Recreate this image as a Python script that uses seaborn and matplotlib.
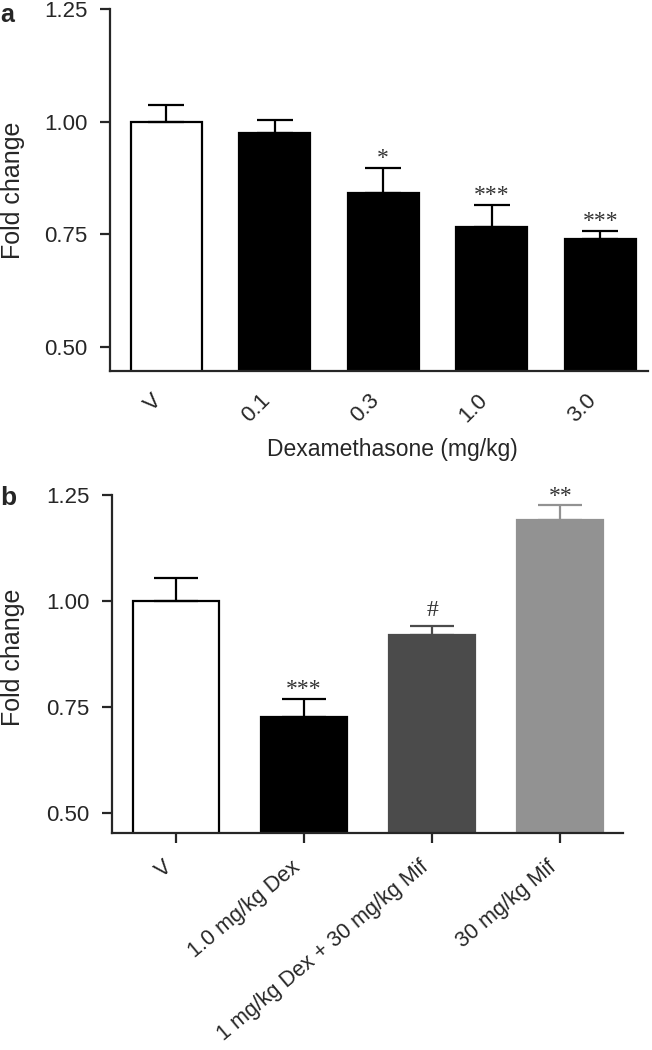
import numpy as np
import matplotlib
matplotlib.use('Agg')
import matplotlib.pyplot as plt
import matplotlib.transforms as mtransforms
import seaborn as sns

# ===================== data =====================
a_labels = ['V', '0.1', '0.3', '1.0', '3.0']
a_means = [1.00, 0.975, 0.841, 0.767, 0.739]
a_sem = [0.037, 0.029, 0.057, 0.049, 0.019]
a_marks = ['', '', '*', '***', '***']

b_labels = ['V', '1.0 mg/kg Dex', '1 mg/kg Dex + 30 mg/kg Mif', '30 mg/kg Mif']
b_means = [1.00, 0.726, 0.919, 1.191]
b_sem = [0.054, 0.043, 0.022, 0.035]
b_marks = ['', '***', '#', '**']

yticks = [0.50, 0.75, 1.00, 1.25]

# ===================== style =====================
sns.set_style('ticks')
plt.rcParams['font.family'] = ['Liberation Sans', 'DejaVu Sans']

a_face = ['white', 'black', 'black', 'black', 'black']
a_edge = ['black'] * 5
b_face = ['white', 'black', '#4b4b4b', '#929292']
b_edge = ['black', 'black', '#4b4b4b', '#929292']

fig = plt.figure(figsize=(6.52, 10.5), dpi=100)
ax_a = fig.add_axes([0.1687, 0.647, 0.825, 0.3442])
ax_b = fig.add_axes([0.1718, 0.2064, 0.7837, 0.3222])


def draw_panel(ax, labels, means, sem, marks, face, edge, width, cap, rot):
    sns.barplot(x=labels, y=means, hue=labels, palette=face, legend=False,
                width=width, linewidth=1.6, saturation=1, ax=ax)
    for patch, ec in zip(ax.patches, edge):
        patch.set_edgecolor(ec)
    for i, (m, s) in enumerate(zip(means, sem)):
        ax.errorbar(i, m, yerr=[[0], [s]], fmt='none', ecolor=edge[i],
                    elinewidth=1.6, capsize=cap, capthick=1.6, zorder=1)
        if marks[i]:
            off = 7 if marks[i] == '#' else 2.5
            ax.annotate(marks[i], (i, m + s), xytext=(0, off),
                        textcoords='offset points', ha='center', va='baseline',
                        fontsize=17, color='#333333',
                        family=['Liberation Serif', 'DejaVu Serif'])
    ax.set_yticks(yticks)
    ax.set_yticklabels([f'{v:.2f}' for v in yticks])
    ax.set_ylabel('Fold change', fontsize=18)
    for side in ['top', 'right']:
        ax.spines[side].set_visible(False)
    for side in ['left', 'bottom']:
        ax.spines[side].set_linewidth(1.6)
    ax.tick_params(axis='y', length=7, width=1.6, labelsize=16, pad=9)
    shift = mtransforms.ScaledTranslation(6 / 100, 0, fig.dpi_scale_trans)
    for lab in ax.get_xticklabels():
        lab.set_rotation(rot)
        lab.set_ha('right')
        lab.set_transform(lab.get_transform() + shift)


# ---- panel a ----
draw_panel(ax_a, a_labels, a_means, a_sem, a_marks, a_face, a_edge, 0.655, 13, 45)
ax_a.set_ylim(0.447, 1.25)
ax_a.set_xlim(-0.52, 4.44)
ax_a.tick_params(axis='x', length=0, labelsize=16, pad=14)
ax_a.set_xlabel('Dexamethasone (mg/kg)', fontsize=16.5)
ax_a.xaxis.set_label_coords(0.525, -0.185)
ax_a.yaxis.set_label_coords(-0.158, 0.5)

# ---- panel b ----
draw_panel(ax_b, b_labels, b_means, b_sem, b_marks, b_face, b_edge, 0.67, 16, 40)
ax_b.set_ylim(0.451, 1.25)
ax_b.set_xlim(-0.5, 3.49)
ax_b.tick_params(axis='x', length=7, width=1.6, labelsize=15.5, pad=10)
ax_b.set_xlabel('')
ax_b.yaxis.set_label_coords(-0.170, 0.52)

fig.text(0.0, 0.997, 'a', fontsize=18, fontweight='bold', va='top', ha='left')
fig.text(0.0, 0.537, 'b', fontsize=19, fontweight='bold', va='top', ha='left')

plt.savefig('out.png', dpi=100)
